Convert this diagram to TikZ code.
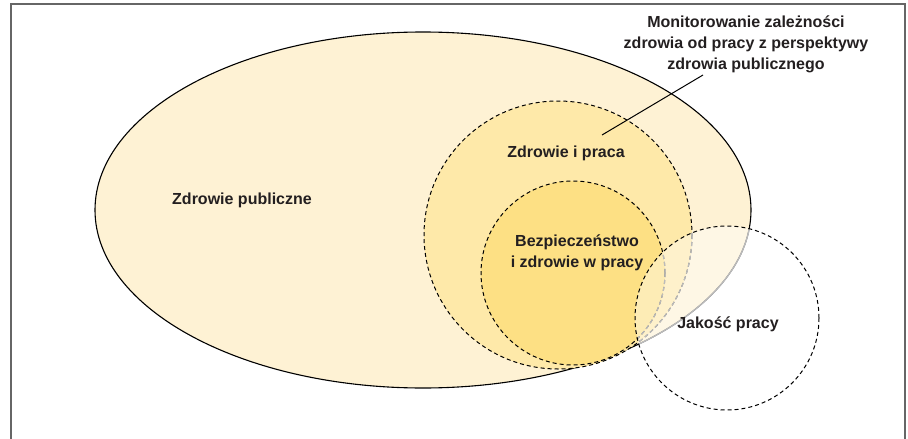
\documentclass[tikz,border=0pt]{standalone}
\usepackage{fontspec}
\setmainfont{Liberation Sans}
\usepackage{tikz}

\definecolor{publiczne}{HTML}{FEF2D4}
\definecolor{praca}{HTML}{FEE9A9}
\definecolor{bhp}{HTML}{FDE084}
\definecolor{napis}{HTML}{231F20}
\definecolor{ramka}{HTML}{666666}
\definecolor{blady}{HTML}{BBBBBB}

\begin{document}
\begin{tikzpicture}[x=1pt, y=-1pt]
                \useasboundingbox (0,0) rectangle (908,439);
                \draw[ramka, line width=1.5] (11,439) -- (11,4) -- (905,4) -- (905,439);
                \begin{scope}[line width=1, dash pattern=on 4pt off 3pt]
                        \filldraw[fill=publiczne, solid, line width=1.1] (423,210) ellipse [x radius=328, y radius=178];
                        \filldraw[fill=praca] (558,235) circle [radius=134];
                        \filldraw[fill=bhp] (573,273) circle [radius=92];
                        \fill[white, opacity=0.4] (727,318) circle [radius=92];
                        \begin{scope}
                                \clip (727,318) circle [radius=92];
                                \draw[blady, solid, line width=1.3] (423,210) ellipse [x radius=328, y radius=178];
                                \draw[blady, line width=1.2] (558,235) circle [radius=134];
                                \draw[blady, line width=1.2] (573,273) circle [radius=92];
                        \end{scope}
                        \draw (727,318) circle [radius=92];
                \end{scope}
                \begin{scope}[every node/.style={text=napis, align=center, inner sep=0, font=\bfseries\fontsize{16}{21}\selectfont}]
                        \node (M) at (746,44) {Monitorowanie zależności\\zdrowia od pracy z perspektywy\\zdrowia publicznego};
                        \node (ZP) at (242,200) {Zdrowie publiczne};
                        \node (ZiP) at (566,153) {Zdrowie i praca};
                        \node (BHP) at (577,253) {Bezpieczeństwo\\i zdrowie w pracy};
                        \node (JP) at (728,324) {Jakość pracy};
                \end{scope}
                \coordinate (M1) at (703,75);
                \coordinate (M2) at (602,135);
                \draw[line width=1] (M1) -- (M2);
        \end{tikzpicture}
\end{document}
